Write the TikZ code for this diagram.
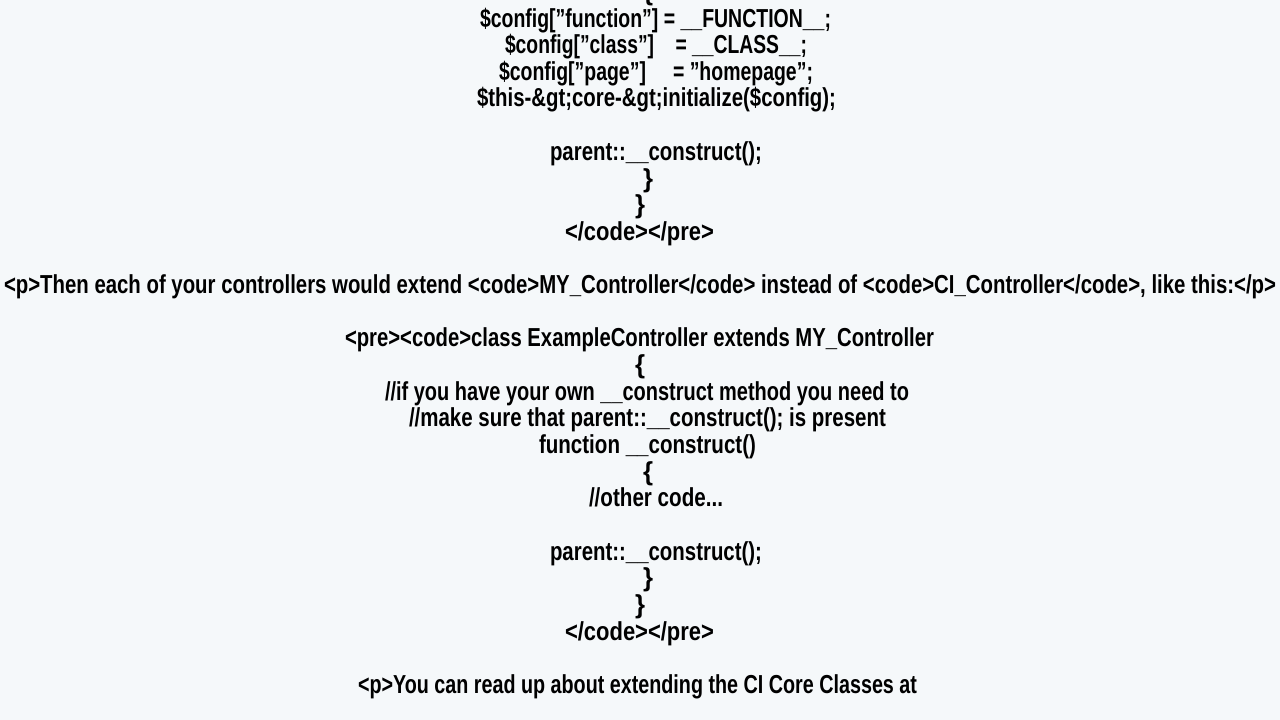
\documentclass[tikz,border=0pt]{standalone}
\usepackage{fontspec}
\setmainfont{Liberation Sans}
\usepackage{graphicx}
\definecolor{bg}{HTML}{F5F8FA}
\newsavebox\tbox
\newdimen\tdim
\newcommand\tl[4]{%
\node[inner sep=0,anchor=base] at ({(#1+#2)/2},{720-#3-9}) {%
\sbox\tbox{\normalfont\fontsize{26}{26}\selectfont\bfseries #4}%
\tdim=\wd\tbox
\ifdim\tdim<1pt\tdim=10pt\fi
\pgfmathsetmacro\rr{(#2-#1)/\tdim}%
\scalebox{\rr}[1]{\usebox\tbox}};}
\begin{document}
\begin{tikzpicture}[x=1pt,y=1pt]
\fill[bg] (0,0) rectangle (1280,720);
\useasboundingbox (0,0) rectangle (1280,720);
\clip (0,0) rectangle (1280,720);
\tl{643}{653}{-8}{\{}
\tl{480}{831}{19}{\$config["function"] = \_\_FUNCTION\_\_;}
\tl{505}{807}{45}{\$config["class"]\ \ \ \ = \_\_CLASS\_\_;}
\tl{499}{813}{72}{\$config["page"]\ \ \ \ \ = "homepage";}
\tl{477}{836}{98}{\$this-\&gt;core-\&gt;initialize(\$config);}
\tl{550}{762}{152}{parent::\_\_construct();}
\tl{643}{653}{179}{\}}
\tl{635}{645}{205}{\}}
\tl{565}{714}{232}{</code></pre>}
\tl{4}{1276}{285}{<p>Then each of your controllers would extend <code>MY\_Controller</code> instead of <code>CI\_Controller</code>, like this:</p>}
\tl{345}{934}{338}{<pre><code>class ExampleController extends MY\_Controller}
\tl{635}{645}{365}{\{}
\tl{385}{909}{392}{//if you have your own \_\_construct method you need to}
\tl{409}{886}{418}{//make sure that parent::\_\_construct(); is present}
\tl{539}{756}{445}{function \_\_construct()}
\tl{643}{653}{472}{\{}
\tl{589}{723}{498}{//other code...}
\tl{550}{762}{552}{parent::\_\_construct();}
\tl{643}{653}{578}{\}}
\tl{635}{645}{605}{\}}
\tl{565}{714}{632}{</code></pre>}
\tl{358}{917}{685}{<p>You can read up about extending the CI Core Classes at}
\end{tikzpicture}
\end{document}
